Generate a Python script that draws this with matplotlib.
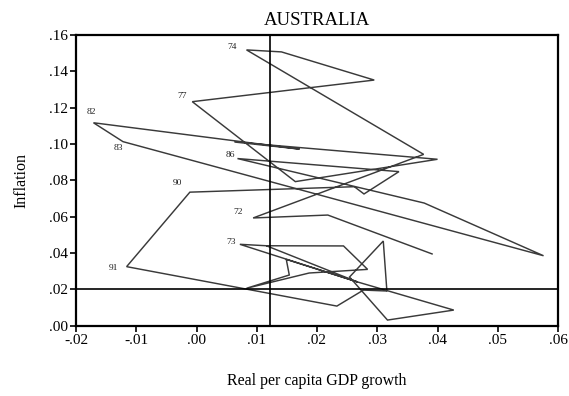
import matplotlib
matplotlib.use("Agg")
import matplotlib.pyplot as plt
from matplotlib.ticker import FuncFormatter

# Path of (real per capita GDP growth, inflation), in plotting order
growth = [0.0391, 0.0218, 0.0094, 0.0377, 0.0083, 0.0141, 0.0295, -0.0007,
          0.0164, 0.0400, 0.0063, 0.0171, -0.0171, -0.0122, 0.0576, 0.0378,
          0.0068, 0.0336, 0.0278, 0.0262, -0.0011, -0.0116, 0.0233, 0.0277,
          0.0316, 0.0310, 0.0254, 0.0317, 0.0427, 0.0267, 0.0116, 0.0244,
          0.0284, 0.0187, 0.0083, 0.0154, 0.0149, 0.0267, 0.0072, 0.0116]
inflation = [0.0395, 0.0609, 0.0593, 0.0943, 0.1518, 0.1507, 0.1352, 0.1233,
             0.0793, 0.0916, 0.1011, 0.0972, 0.1117, 0.1013, 0.0385, 0.0675,
             0.0920, 0.0848, 0.0725, 0.0765, 0.0735, 0.0325, 0.0108, 0.0196,
             0.0191, 0.0466, 0.0268, 0.0031, 0.0086, 0.0241, 0.0440, 0.0439,
             0.0310, 0.0290, 0.0206, 0.0279, 0.0365, 0.0241, 0.0448, 0.0440]

# Year labels: text and index of the point they belong to
label_text = ["72", "73", "74", "77", "82", "83", "86", "90", "91"]
label_index = [2, 38, 4, 7, 12, 13, 16, 20, 21]
label_offset = [(-11, 4.5), (-6, 2), (-10, 2.2), (-7.4, 4.1), (-1.7, 7.7),
                (-3.1, -4.5), (-5, 2.5), (-8.6, 6.5), (-9.8, -0.7)]

mean_growth = 0.0122
ref_inflation = 0.02

xticks = [-0.02, -0.01, 0.00, 0.01, 0.02, 0.03, 0.04, 0.05, 0.06]
yticks = [0.00, 0.02, 0.04, 0.06, 0.08, 0.10, 0.12, 0.14, 0.16]

plt.rcParams['font.family'] = ['Liberation Serif', 'DejaVu Serif']

fig = plt.figure(figsize=(5.69, 3.96), dpi=100)
ax = fig.add_axes([76 / 569, 1 - 325.7 / 396, (558 - 76) / 569, (325.7 - 35) / 396])

ax.plot(growth, inflation, color='#3a3a3a', lw=1.05, solid_joinstyle='miter')
ax.axvline(mean_growth, color='black', lw=1.2)
ax.axhline(ref_inflation, color='black', lw=1.2)

for t, i, off in zip(label_text, label_index, label_offset):
    ax.annotate(t, (growth[i], inflation[i]), xytext=off, textcoords='offset points',
                ha='center', va='center', fontsize=6.8, color='#222222')

ax.set_xlim(-0.02, 0.06)
ax.set_ylim(0.0, 0.16)
ax.set_xticks(xticks)
ax.set_yticks(yticks)

def fmt(v, pos=None):
    s = f"{round(v, 4):.2f}"
    if s == "-0.00":
        s = "0.00"
    return s.replace("0.", ".", 1)

ax.xaxis.set_major_formatter(FuncFormatter(fmt))
ax.yaxis.set_major_formatter(FuncFormatter(fmt))
ax.tick_params(direction='out', length=4, width=1.2, labelsize=11, pad=2, colors='black')
for sp in ax.spines.values():
    sp.set_linewidth(1.6)

ax.set_title("AUSTRALIA", fontsize=13.5, pad=7)
ax.set_xlabel("Real per capita GDP growth", fontsize=11.5, labelpad=19)
ax.set_ylabel("Inflation", fontsize=11.5, labelpad=14)

fig.savefig("out.png", dpi=100)
